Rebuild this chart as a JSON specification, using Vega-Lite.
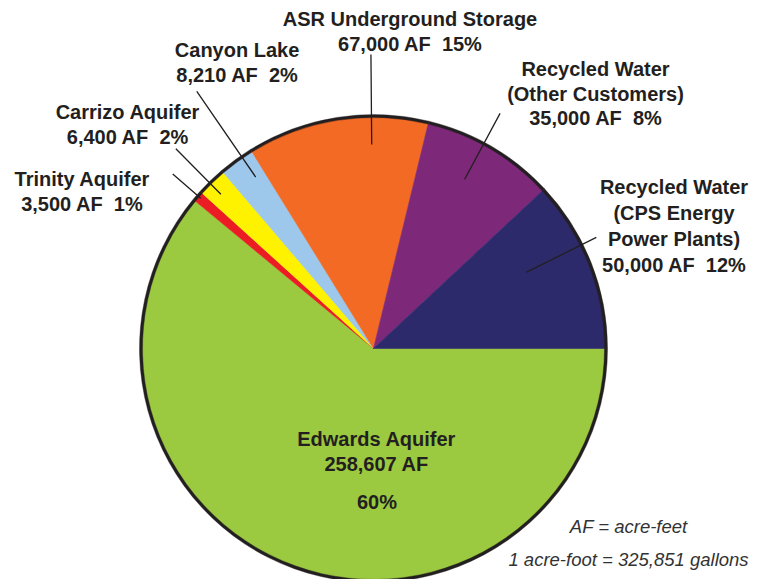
{
  "$schema": "https://vega.github.io/schema/vega-lite/v6.json",
  "width": 747,
  "height": 697,
  "autosize": {"type": "none"},
  "padding": {"left": 0, "top": 0, "right": 19, "bottom": -118},
  "background": "white",
  "config": {"view": {"stroke": null}, "text": {"font": "Liberation Sans"}},
  "title": {
    "text": "AF = acre-feet",
    "subtitle": "1 acre-foot = 325,851 gallons",
    "orient": "bottom",
    "anchor": "end",
    "frame": "group",
    "align": "center",
    "dx": -118.5,
    "offset": -178.6,
    "font": "Liberation Sans",
    "fontSize": 18.5,
    "fontStyle": "italic",
    "fontWeight": "normal",
    "color": "#333333",
    "subtitleFont": "Liberation Sans",
    "subtitleFontSize": 18.5,
    "subtitleFontStyle": "italic",
    "subtitleFontWeight": "normal",
    "subtitleColor": "#333333",
    "subtitlePadding": 14
  },
  "data": {
    "values": [
      {"source": "Edwards Aquifer", "order": 1, "acre_feet": 258607, "percent": 0.60, "share": 61.0, "label": "Edwards Aquifer\n258,607 AF"},
      {"source": "Trinity Aquifer", "order": 2, "acre_feet": 3500, "percent": 0.01, "share": 0.72, "label": "Trinity Aquifer\n3,500 AF \u00a01%"},
      {"source": "Carrizo Aquifer", "order": 3, "acre_feet": 6400, "percent": 0.02, "share": 2.03, "label": "Carrizo Aquifer\n6,400 AF \u00a02%"},
      {"source": "Canyon Lake", "order": 4, "acre_feet": 8210, "percent": 0.02, "share": 2.44, "label": "Canyon Lake\n8,210 AF \u00a02%"},
      {"source": "ASR Underground Storage", "order": 5, "acre_feet": 67000, "percent": 0.15, "share": 12.61, "label": "ASR Underground Storage\n67,000 AF \u00a015%"},
      {"source": "Recycled Water (Other Customers)", "order": 6, "acre_feet": 35000, "percent": 0.08, "share": 9.25, "label": "Recycled Water\n(Other Customers)\n35,000 AF \u00a08%"},
      {"source": "Recycled Water (CPS Energy Power Plants)", "order": 7, "acre_feet": 50000, "percent": 0.12, "share": 11.95, "label": "Recycled Water\n(CPS Energy\nPower Plants)\n50,000 AF \u00a012%"}
    ]
  },
  "transform": [
    {"stack": "share", "groupby": [], "sort": [{"field": "order", "order": "ascending"}], "as": ["s0", "s1"]}
  ],
  "layer": [
    {
      "mark": {"type": "arc", "radius": 232, "strokeWidth": 0.6},
      "encoding": {
        "theta": {"field": "s0", "type": "quantitative", "scale": {"domain": [0, 100], "range": [1.5707963, 7.8539816]}},
        "theta2": {"field": "s1"},
        "color": {"field": "source", "type": "nominal", "legend": null,
          "scale": {"domain": ["Edwards Aquifer", "Trinity Aquifer", "Carrizo Aquifer", "Canyon Lake", "ASR Underground Storage", "Recycled Water (Other Customers)", "Recycled Water (CPS Energy Power Plants)"],
                    "range": ["#9BC93F", "#EC1C24", "#FFF200", "#9DC8EB", "#F26A24", "#7D2879", "#2D2A6B"]}},
        "stroke": {"field": "source", "type": "nominal", "legend": null,
          "scale": {"domain": ["Edwards Aquifer", "Trinity Aquifer", "Carrizo Aquifer", "Canyon Lake", "ASR Underground Storage", "Recycled Water (Other Customers)", "Recycled Water (CPS Energy Power Plants)"],
                    "range": ["#9BC93F", "#EC1C24", "#FFF200", "#9DC8EB", "#F26A24", "#7D2879", "#2D2A6B"]}}
      }
    },
    {
      "mark": {"type": "arc", "radius": 234, "radius2": 231, "fill": "#231F20", "stroke": "#231F20", "strokeWidth": 0.4},
      "encoding": {
        "theta": {"field": "s0", "type": "quantitative", "scale": {"domain": [0, 100], "range": [1.5707963, 7.8539816]}},
        "theta2": {"field": "s1"}
      }
    },
    {
      "transform": [{"filter": {"field": "source", "equal": "ASR Underground Storage"}}],
      "mark": {"type": "arc", "radius": 294, "radius2": 204, "thetaOffset": 0.5448222, "theta2Offset": 0.5448222, "filled": false, "stroke": "#231F20", "strokeWidth": 1.3},
      "encoding": {
        "theta": {"field": "s0", "type": "quantitative", "scale": {"domain": [0, 100], "range": [1.5707963, 7.8539816]}},
        "theta2": {"field": "s0"}
      }
    },
    {
      "transform": [{"filter": {"field": "source", "equal": "Recycled Water (Other Customers)"}}],
      "mark": {"type": "arc", "radius": 267, "radius2": 192, "thetaOffset": 0.2551673, "theta2Offset": 0.2551673, "filled": false, "stroke": "#231F20", "strokeWidth": 1.3},
      "encoding": {
        "theta": {"field": "s0", "type": "quantitative", "scale": {"domain": [0, 100], "range": [1.5707963, 7.8539816]}},
        "theta2": {"field": "s0"}
      }
    },
    {
      "transform": [{"filter": {"field": "source", "equal": "Recycled Water (CPS Energy Power Plants)"}}],
      "mark": {"type": "arc", "radius": 249, "radius2": 171, "thetaOffset": 0.2883389, "theta2Offset": 0.2883389, "filled": false, "stroke": "#231F20", "strokeWidth": 1.3},
      "encoding": {
        "theta": {"field": "s0", "type": "quantitative", "scale": {"domain": [0, 100], "range": [1.5707963, 7.8539816]}},
        "theta2": {"field": "s0"}
      }
    },
    {
      "transform": [{"filter": {"field": "source", "equal": "Canyon Lake"}}],
      "mark": {"type": "arc", "radius": 312, "radius2": 208, "thetaOffset": 0.1047568, "theta2Offset": 0.1047568, "filled": false, "stroke": "#231F20", "strokeWidth": 1.3},
      "encoding": {
        "theta": {"field": "s0", "type": "quantitative", "scale": {"domain": [0, 100], "range": [1.5707963, 7.8539816]}},
        "theta2": {"field": "s0"}
      }
    },
    {
      "transform": [{"filter": {"field": "source", "equal": "Carrizo Aquifer"}}],
      "mark": {"type": "arc", "radius": 281, "radius2": 217, "thetaOffset": 0.0542835, "theta2Offset": 0.0542835, "filled": false, "stroke": "#231F20", "strokeWidth": 1.3},
      "encoding": {
        "theta": {"field": "s0", "type": "quantitative", "scale": {"domain": [0, 100], "range": [1.5707963, 7.8539816]}},
        "theta2": {"field": "s0"}
      }
    },
    {
      "transform": [{"filter": {"field": "source", "equal": "Trinity Aquifer"}}],
      "mark": {"type": "arc", "radius": 266, "radius2": 229, "thetaOffset": 0.0244789, "theta2Offset": 0.0244789, "filled": false, "stroke": "#231F20", "strokeWidth": 1.3},
      "encoding": {
        "theta": {"field": "s0", "type": "quantitative", "scale": {"domain": [0, 100], "range": [1.5707963, 7.8539816]}},
        "theta2": {"field": "s0"}
      }
    },
    {
      "transform": [{"filter": {"field": "source", "equal": "ASR Underground Storage"}}],
      "mark": {"type": "text", "radius": 318, "dx": -38.7, "dy": -19.8, "fontSize": 20, "fontWeight": "bold", "lineBreak": "\n", "lineHeight": 25, "align": "center", "baseline": "middle", "color": "#231F20"},
      "encoding": {
        "theta": {"field": "s1", "type": "quantitative", "scale": {"domain": [0, 100], "range": [1.5707963, 7.8539816]}},
        "text": {"field": "label", "type": "nominal"}
      }
    },
    {
      "transform": [{"filter": {"field": "source", "equal": "Canyon Lake"}}],
      "mark": {"type": "text", "radius": 316, "dx": 29.7, "dy": -28.5, "fontSize": 20, "fontWeight": "bold", "lineBreak": "\n", "lineHeight": 25, "align": "center", "baseline": "middle", "color": "#231F20"},
      "encoding": {
        "theta": {"field": "s1", "type": "quantitative", "scale": {"domain": [0, 100], "range": [1.5707963, 7.8539816]}},
        "text": {"field": "label", "type": "nominal"}
      }
    },
    {
      "transform": [{"filter": {"field": "source", "equal": "Carrizo Aquifer"}}],
      "mark": {"type": "text", "radius": 332, "dx": 0, "dy": -12.5, "fontSize": 20, "fontWeight": "bold", "lineBreak": "\n", "lineHeight": 25, "align": "center", "baseline": "middle", "color": "#231F20"},
      "encoding": {
        "theta": {"field": "s0", "type": "quantitative", "scale": {"domain": [0, 100], "range": [1.5707963, 7.8539816]}},
        "text": {"field": "label", "type": "nominal"}
      }
    },
    {
      "transform": [{"filter": {"field": "source", "equal": "Trinity Aquifer"}}],
      "mark": {"type": "text", "radius": 330.5, "dx": -36.9, "dy": 42.4, "fontSize": 20, "fontWeight": "bold", "lineBreak": "\n", "lineHeight": 25, "align": "center", "baseline": "middle", "color": "#231F20"},
      "encoding": {
        "theta": {"field": "s0", "type": "quantitative", "scale": {"domain": [0, 100], "range": [1.5707963, 7.8539816]}},
        "text": {"field": "label", "type": "nominal"}
      }
    },
    {
      "transform": [{"filter": {"field": "source", "equal": "Recycled Water (Other Customers)"}}],
      "mark": {"type": "text", "radius": 337, "dx": -24.4, "dy": -48.4, "fontSize": 20, "fontWeight": "bold", "lineBreak": "\n", "lineHeight": 24.5, "align": "center", "baseline": "middle", "color": "#231F20"},
      "encoding": {
        "theta": {"field": "s1", "type": "quantitative", "scale": {"domain": [0, 100], "range": [1.5707963, 7.8539816]}},
        "text": {"field": "label", "type": "nominal"}
      }
    },
    {
      "transform": [{"filter": {"field": "source", "equal": "Recycled Water (CPS Energy Power Plants)"}}],
      "mark": {"type": "text", "radius": 300.5, "dx": 0, "dy": -160.3, "fontSize": 20, "fontWeight": "bold", "lineBreak": "\n", "lineHeight": 26, "align": "center", "baseline": "middle", "color": "#231F20"},
      "encoding": {
        "theta": {"field": "s1", "type": "quantitative", "scale": {"domain": [0, 100], "range": [1.5707963, 7.8539816]}},
        "text": {"field": "label", "type": "nominal"}
      }
    },
    {
      "transform": [{"filter": {"field": "source", "equal": "Edwards Aquifer"}}],
      "mark": {"type": "text", "radius": 0, "dx": 2.8, "dy": 91.7, "fontSize": 20, "fontWeight": "bold", "lineBreak": "\n", "lineHeight": 25, "align": "center", "baseline": "middle", "color": "#231F20"},
      "encoding": {
        "theta": {"field": "s0", "type": "quantitative", "scale": {"domain": [0, 100], "range": [1.5707963, 7.8539816]}},
        "text": {"field": "label", "type": "nominal"}
      }
    },
    {
      "transform": [{"filter": {"field": "source", "equal": "Edwards Aquifer"}}],
      "mark": {"type": "text", "radius": 0, "dx": 3.5, "dy": 154.7, "fontSize": 20, "fontWeight": "bold", "align": "center", "baseline": "middle", "color": "#231F20"},
      "encoding": {
        "theta": {"field": "s0", "type": "quantitative", "scale": {"domain": [0, 100], "range": [1.5707963, 7.8539816]}},
        "text": {"field": "percent", "type": "quantitative", "format": ".0%"}
      }
    }
  ]
}
